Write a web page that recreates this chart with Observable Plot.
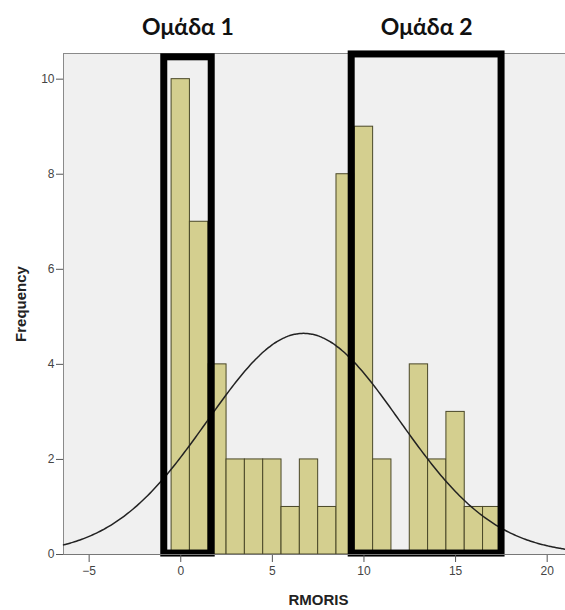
<!DOCTYPE html>
<html>
<head>
<meta charset="utf-8">
<script src="https://cdn.jsdelivr.net/npm/d3@7"></script>
<script src="https://cdn.jsdelivr.net/npm/@observablehq/plot@0.6"></script>
<style>
  html, body { margin: 0; padding: 0; background: #ffffff; }
  #chart svg { display: block; }
</style>
</head>
<body>
<div id="chart"></div>
<script>
// ---- Data ----
const binCenters = [0, 1, 2, 3, 4, 5, 6, 7, 8, 9, 10, 11, 12, 13, 14, 15, 16, 17];
const frequencies = [10, 7, 4, 2, 2, 2, 1, 2, 1, 8, 9, 2, 0, 4, 2, 3, 1, 1];
const binWidth = 1;

// Fitted normal curve parameters (as drawn by SPSS)
const curveMean = 6.7;
const curveSD = 5.23;

// Group annotation boxes
const groupNames = ["Ομάδα 1", "Ομάδα 2"];
const groupStart = [-0.9, 9.33];
const groupEnd = [1.69, 17.51];
const groupTop = [10.46, 10.52];

const xTicks = [-5, 0, 5, 10, 15, 20];
const yTicks = [0, 2, 4, 6, 8, 10];

// ---- Build tables ----
const bars = binCenters.map((c, i) => ({x1: c - binWidth / 2, x2: c + binWidth / 2, count: frequencies[i]}))
  .filter(d => d.count > 0);
const N = d3.sum(frequencies);
const xDomain = [-6.4, 21.0];
const curve = d3.range(xDomain[0], xDomain[1] + 0.001, 0.1).map(x => ({
  x,
  y: N * binWidth / (curveSD * Math.sqrt(2 * Math.PI)) * Math.exp(-0.5 * ((x - curveMean) / curveSD) ** 2)
}));
const groups = groupNames.map((name, i) => ({
  name, x1: groupStart[i], x2: groupEnd[i], top: groupTop[i], cx: (groupStart[i] + groupEnd[i]) / 2
}));

const chart = Plot.plot({
  width: 565,
  height: 610,
  marginLeft: 63,
  marginRight: 0,
  marginTop: 53,
  marginBottom: 56,
  style: {fontFamily: "'Liberation Sans', Arial, sans-serif", background: "#ffffff"},
  x: {domain: xDomain, ticks: xTicks},
  y: {domain: [0, 10.54], ticks: yTicks},
  marks: [
    Plot.frame({fill: "#f0f0f0", stroke: "#8a8a8a", strokeWidth: 1}),
    Plot.rectY(bars, {x1: "x1", x2: "x2", y: "count", fill: "#d4cf8f", stroke: "#4a4828", strokeWidth: 1, inset: 0}),
    Plot.line(curve, {x: "x", y: "y", stroke: "#222222", strokeWidth: 1.5, curve: "basis"}),
    Plot.rect(groups, {x1: "x1", x2: "x2", y1: 0.02, y2: "top", fill: "none", stroke: "#000000", strokeWidth: 7, inset: 0}),
    Plot.axisX({ticks: xTicks, tickSize: 8, tickPadding: 4, fontSize: 12, color: "#444", stroke: "#555", label: null}),
    Plot.axisY({ticks: yTicks, tickSize: 7, tickPadding: 2, fontSize: 12, color: "#444", stroke: "#555", label: null}),
    Plot.ruleY([0], {stroke: "#777"}),
    Plot.text(["Frequency"], {frameAnchor: "left", textAnchor: "middle", lineAnchor: "middle", dx: -42, rotate: -90, text: d => d, fontSize: 15, fontWeight: "bold", fill: "#222"}),
    Plot.text(["RMORIS"], {frameAnchor: "bottom", textAnchor: "middle", lineAnchor: "middle", dx: 4, dy: 46, text: d => d, fontSize: 15, fontWeight: "bold", fill: "#222"}),
    Plot.text(groups, {x: "cx", frameAnchor: "top", lineAnchor: "middle", dy: -26, text: "name", fontSize: 23, fontWeight: "bold", fontFamily: "Lato, 'Open Sans', sans-serif", fill: "#111"})
  ]
});
document.getElementById("chart").appendChild(chart);
</script>
</body>
</html>
